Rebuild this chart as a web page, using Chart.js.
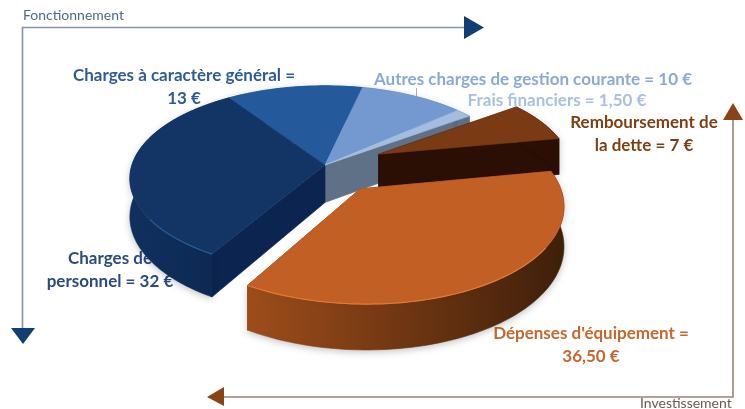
<!DOCTYPE html>
<html>
<head>
<meta charset="utf-8">
<style>
  html, body { margin: 0; background: #fff; }
  canvas { display: block; filter: blur(0.45px); }
</style>
<script src="https://cdn.jsdelivr.net/npm/chart.js@4"></script>
</head>
<body>
<canvas id="pieChart" width="745" height="409"></canvas>
<script>
const categories = ['Charges à caractère général', 'Autres charges de gestion courante', 'Frais financiers',
    'Remboursement de la dette', "Dépenses d'équipement", 'Charges de personnel'];
const values = [13, 10, 1.5, 7, 36.5, 32];
const explodePx = [0, 0, 0, 44, 44, 0];

const topColors = ['#245a9c', '#7399d0', '#a3bce0', '#7a3a14', '#c25f25', '#123565'];
const cutColors = ['#245a9c', '#7399d0', '#5f7186', '#2c0f04', '#7a3a14', '#0b2450'];
const wallLeft = ['#1d4a80', '#5f7186', '#5f7186', '#2c0f04', '#9e4d1a', '#10305e'];
const wallRight = ['#1d4a80', '#5f7186', '#5f7186', '#2c0f04', '#3f1f0a', '#0c2852'];
const rimColors = ['#245a9c', '#7399d0', '#a3bce0', '#7a3a14', '#e07c34', '#2a5b96'];

// Perspective of the 3D pie
const camera = { zoom: 1.35, squash: 0.47, perspective: 0.146, depth: 37.5 };

function project(el, X, Y, down) {
    const s = el.outerRadius * camera.zoom;
    const w = 1 - camera.perspective * Y;
    return {
        x: el.x + s * X / w,
        y: el.y + s * camera.squash * Y / w + (down ? camera.depth / w : 0)
    };
}

function slicePoints(el, down) {
    const frac = el.options.offset / el.outerRadius;
    const mid = (el.startAngle + el.endAngle) / 2;
    const ox = frac * Math.cos(mid), oy = frac * Math.sin(mid);
    const arc = [];
    const steps = Math.max(6, Math.ceil((el.endAngle - el.startAngle) * 40));
    for (let i = 0; i <= steps; i++) {
        const a = el.startAngle + (el.endAngle - el.startAngle) * i / steps;
        const p = project(el, ox + Math.cos(a), oy + Math.sin(a), down);
        p.front = Math.sin(a);
        arc.push(p);
    }
    return { apex: project(el, ox, oy, down), arc };
}

function fillPoly(ctx, pts, fill) {
    ctx.beginPath();
    pts.forEach((p, i) => i ? ctx.lineTo(p.x, p.y) : ctx.moveTo(p.x, p.y));
    ctx.closePath();
    ctx.fillStyle = fill;
    ctx.fill();
    // hides the hairline between neighbours
    ctx.strokeStyle = fill;
    ctx.lineWidth = 0.6;
    ctx.stroke();
}

function drawWalls(ctx, el, i, count) {
    const t = slicePoints(el, false), b = slicePoints(el, true);
    const prevOpen = explodePx[(i + count - 1) % count] !== explodePx[i] || explodePx[i] > 0;
    const nextOpen = explodePx[(i + 1) % count] !== explodePx[i] || explodePx[i] > 0;
    if (prevOpen) fillPoly(ctx, [t.apex, t.arc[0], b.arc[0], b.apex], cutColors[i]);
    if (nextOpen) fillPoly(ctx, [t.apex, t.arc[t.arc.length - 1], b.arc[b.arc.length - 1], b.apex], cutColors[i]);

    const xs = t.arc.map(p => p.x);
    const grad = ctx.createLinearGradient(Math.min(...xs), 0, Math.max(...xs), 0);
    grad.addColorStop(0, wallLeft[i]);
    grad.addColorStop(1, wallRight[i]);
    ctx.save();
    ctx.shadowColor = 'rgba(0,0,0,0.22)';
    ctx.shadowBlur = 7;
    ctx.shadowOffsetY = 2;
    fillPoly(ctx, t.arc.concat(b.arc.slice().reverse()), grad);
    ctx.restore();
}

function drawTop(ctx, el, i) {
    const t = slicePoints(el, false);
    fillPoly(ctx, [t.apex].concat(t.arc), topColors[i]);
    // the bevel only catches light on the front of the pie
    const front = t.arc.filter(p => p.front > 0.55);
    if (!front.length) return;
    ctx.beginPath();
    front.forEach((p, n) => n ? ctx.lineTo(p.x, p.y) : ctx.moveTo(p.x, p.y));
    ctx.strokeStyle = rimColors[i];
    ctx.lineWidth = 1.2;
    ctx.stroke();
}

function drawLabel(ctx, lines, x, y, color) {
    ctx.save();
    ctx.font = 'bold 17px Lato, sans-serif';
    ctx.textAlign = 'center';
    ctx.textBaseline = 'middle';
    ctx.fillStyle = color;
    lines.forEach((line, n) => ctx.fillText(line, x, y + n * 22.5));
    ctx.restore();
}

function triangle(ctx, a, b, c, color) {
    ctx.beginPath();
    ctx.moveTo(...a);
    ctx.lineTo(...b);
    ctx.lineTo(...c);
    ctx.closePath();
    ctx.fillStyle = color;
    ctx.fill();
}

function drawFrames(ctx) {
    ctx.save();
    ctx.lineWidth = 1.6;
    ctx.strokeStyle = '#8693a6';
    ctx.beginPath();
    ctx.moveTo(465, 27.5); ctx.lineTo(22.5, 27.5); ctx.lineTo(22.5, 330);
    ctx.stroke();
    ctx.strokeStyle = '#a08271';
    ctx.beginPath();
    ctx.moveTo(222, 397); ctx.lineTo(733, 397); ctx.lineTo(733, 118);
    ctx.stroke();
    triangle(ctx, [464, 16], [484, 27.5], [464, 39], '#123f73');
    triangle(ctx, [11, 328], [35, 328], [23, 344], '#123f73');
    triangle(ctx, [224, 387], [207, 397], [224, 406], '#8a4317');
    triangle(ctx, [723, 120], [733, 103], [743, 120], '#8a4317');
    // leader of the "Autres charges" label
    ctx.strokeStyle = '#9a9a9a';
    ctx.lineWidth = 0.8;
    ctx.beginPath();
    ctx.moveTo(416.5, 88); ctx.lineTo(416.5, 97);
    ctx.stroke();

    ctx.textBaseline = 'middle';
    ctx.font = '14px Lato, sans-serif';
    ctx.fillStyle = '#4d6a88';
    ctx.fillText('Fonctionnement', 23, 15);
    ctx.fillStyle = '#6b5a50';
    ctx.fillText('Investissement', 640, 403);
    ctx.restore();
}

const pie3d = {
    id: 'pie3d',
    beforeDatasetsDraw(chart) {
        const ctx = chart.ctx;
        const arcs = chart.getDatasetMeta(0).data;
        drawFrames(ctx);
        drawLabel(ctx, ['Charges à caractère général =', '13 €'], 184, 76, '#2f5b94');
        drawLabel(ctx, ['Autres charges de gestion courante = 10 €'], 533, 80, '#8aa9d6');
        drawLabel(ctx, ['Frais financiers = 1,50 €'], 557, 101, '#a9c0e0');
        drawLabel(ctx, ['Remboursement de', 'la dette = 7 €'], 644, 123, '#7f3f12');
        drawLabel(ctx, ['Charges de', 'personnel = 32 €'], 110, 259, '#2b4a80');
        drawLabel(ctx, ["Dépenses d'équipement =", '36,50 €'], 591, 334, '#c4682f');

        // back to front: the pie that stays in place, then the pulled out slices
        const order = arcs.map((el, i) => i);
        const still = order.filter(i => explodePx[i] === 0);
        const pulled = order.filter(i => explodePx[i] > 0);
        still.forEach(i => drawWalls(ctx, arcs[i], i, arcs.length));
        still.forEach(i => drawTop(ctx, arcs[i], i));
        pulled.forEach(i => {
            drawWalls(ctx, arcs[i], i, arcs.length);
            drawTop(ctx, arcs[i], i);
        });
        return false;
    }
};

new Chart(document.getElementById('pieChart').getContext('2d'), {
    type: 'pie',
    data: {
        labels: categories,
        datasets: [{
            data: values,
            backgroundColor: topColors,
            offset: explodePx,
            borderWidth: 0
        }]
    },
    options: {
        responsive: false,
        animation: false,
        rotation: 326,
        layout: { padding: { right: 95, bottom: 79 } },
        plugins: { legend: { display: false }, tooltip: { enabled: false } }
    },
    plugins: [pie3d]
});
</script>
</body>
</html>
